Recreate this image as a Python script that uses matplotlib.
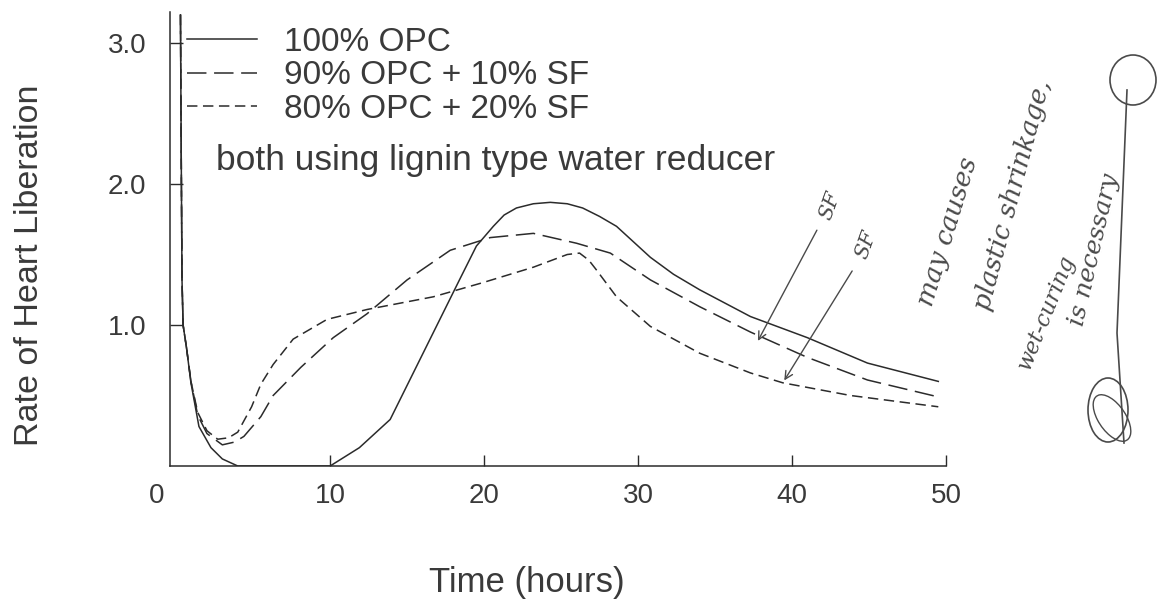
import matplotlib
matplotlib.use("Agg")
import matplotlib.pyplot as plt
from matplotlib.lines import Line2D
from matplotlib.patches import Ellipse
from matplotlib.transforms import ScaledTranslation

plt.rcParams['font.family'] = ['Liberation Sans', 'DejaVu Sans']
plt.rcParams['lines.scale_dashes'] = False

# ---- data ----
time_opc100 = [0.28, 0.33, 0.38, 0.45, 0.67, 0.96, 1.48, 2.26, 3.0, 4.0, 10.0, 11.9, 13.9,
               18.4, 19.5, 20.6, 21.3, 22.1, 23.2, 24.3, 25.4, 26.4, 27.5, 28.6, 29.7, 30.8,
               32.3, 34.0, 37.3, 41.0, 44.9, 49.5]
rate_opc100 = [3.2, 2.2, 1.32, 1.0, 0.84, 0.59, 0.28, 0.13, 0.05, 0.0, 0.0, 0.13, 0.33,
               1.32, 1.56, 1.70, 1.78, 1.83, 1.86, 1.87, 1.86, 1.83, 1.77, 1.70, 1.59, 1.48,
               1.36, 1.25, 1.06, 0.91, 0.73, 0.60]

time_sf10 = [0.28, 0.33, 0.38, 0.45, 0.67, 0.96, 1.4, 2.0, 3.0, 3.8, 4.4, 5.5, 6.3, 8.1, 10.2,
             12.4, 15.0, 17.8, 20.4, 23.2, 26.0, 28.2, 30.8, 34.0, 37.3, 41.0, 44.9, 49.5]
rate_sf10 = [3.2, 2.2, 1.32, 1.0, 0.84, 0.60, 0.36, 0.23, 0.15, 0.17, 0.21, 0.35, 0.50, 0.70, 0.91,
             1.08, 1.32, 1.53, 1.62, 1.65, 1.58, 1.51, 1.32, 1.13, 0.95, 0.77, 0.61, 0.49]

time_sf20 = [0.28, 0.33, 0.38, 0.45, 0.67, 0.96, 1.4, 2.0, 2.7, 3.4, 4.0, 4.9, 5.5, 6.3, 7.6, 9.8,
             12.4, 16.7, 19.9, 23.2, 25.4, 26.2, 26.8, 27.3, 28.6, 30.8, 34.0, 37.3, 39.4, 43.8, 49.5]
rate_sf20 = [3.2, 2.2, 1.32, 1.0, 0.84, 0.60, 0.38, 0.25, 0.19, 0.20, 0.24, 0.42, 0.58, 0.72, 0.90, 1.04,
             1.11, 1.20, 1.30, 1.41, 1.50, 1.51, 1.46, 1.39, 1.20, 0.99, 0.80, 0.66, 0.59, 0.50, 0.42]

labels = ['100% OPC', '90% OPC + 10% SF', '80% OPC + 20% SF']
x_ticks = [0, 10, 20, 30, 40, 50]
y_ticks = [1.0, 2.0, 3.0]
y_ticklabels = ['1.0', '2.0', '3.0']

ink = '#2b2b2b'
txt = '#3a3a3a'
pen = '#4a4a4a'

fig = plt.figure(figsize=(11.69, 6.06), dpi=100)
ax = fig.add_axes([170/1169, 1-466/606, (946-170)/1169, (466-12)/606])

l1, = ax.plot(time_opc100, rate_opc100, color=ink, lw=1.1, label=labels[0])
l2, = ax.plot(time_sf10, rate_sf10, color=ink, lw=1.1, dashes=(14, 5.5), label=labels[1])
l3, = ax.plot(time_sf20, rate_sf20, color=ink, lw=1.1, dashes=(7.5, 4), label=labels[2])

ax.set_xlim(-0.4, 50)
ax.set_ylim(0, 3.22)
for s in ['top', 'right']:
    ax.spines[s].set_visible(False)
for s in ['left', 'bottom']:
    ax.spines[s].set_color(ink)
    ax.spines[s].set_linewidth(1.1)

ax.set_xticks(x_ticks)
ax.set_xticklabels([str(v) for v in x_ticks])
ax.set_yticks(y_ticks)
ax.set_yticklabels(y_ticklabels)
ax.tick_params(axis='x', direction='in', length=8, width=1, color=ink, pad=12,
               labelsize=20, labelcolor=txt)
ax.tick_params(axis='y', direction='in', length=9, width=1, color=ink, pad=17,
               labelsize=20, labelcolor=txt)
ax.xaxis.get_major_ticks()[0].tick1line.set_visible(False)
lab0 = ax.xaxis.get_major_ticks()[0].label1
lab0.set_transform(lab0.get_transform() + ScaledTranslation(-0.2, 0, fig.dpi_scale_trans))

ax.set_xlabel('Time (hours)', fontsize=25, color=txt)
ax.xaxis.set_label_coords((527-170)/776, (466-566)/454)
ax.set_ylabel('Rate of Heart Liberation', fontsize=24.5, color=txt)
ax.yaxis.set_label_coords((45-170)/776, (466-265)/454)

leg = ax.legend(handles=[l1, l2, l3], loc='upper left', bbox_to_anchor=(0.022, 0.967),
                frameon=False, fontsize=24, handlelength=2.1, handletextpad=0.8,
                labelspacing=0.07, borderpad=0, borderaxespad=0)
for t in leg.get_texts():
    t.set_color(txt)

ax.text(2.6, 2.17, 'both using lignin type water reducer', fontsize=25.5, color=txt,
        ha='left', va='center')

# handwritten annotations
hand = dict(color=pen, fontstyle='italic', family='DejaVu Serif')
ax.annotate('', xy=(37.7, 0.87), xytext=(41.7, 1.69),
            arrowprops=dict(arrowstyle='->', color=pen, lw=1.0, mutation_scale=14))
ax.annotate('', xy=(39.4, 0.59), xytext=(44.0, 1.40),
            arrowprops=dict(arrowstyle='->', color=pen, lw=1.0, mutation_scale=14))
ax.text(42.5, 1.85, 'SF', fontsize=15, rotation=70, ha='center', va='center', **hand)
ax.text(44.8, 1.57, 'SF', fontsize=15, rotation=70, ha='center', va='center', **hand)

fig.text(948/1169, 1-232/606, 'may causes', fontsize=19, rotation=73,
         ha='center', va='center', **hand)
fig.text(1013/1169, 1-195/606, 'plastic shrinkage,', fontsize=19, rotation=75,
         ha='center', va='center', **hand)
fig.text(1046/1169, 1-312/606, 'wet-curing', fontsize=16, rotation=68,
         ha='center', va='center', **hand)
fig.text(1094/1169, 1-250/606, 'is necessary', fontsize=18, rotation=77,
         ha='center', va='center', **hand)

# pen doodle on the right margin
fig.add_artist(Line2D([1127/1169, 1117/1169, 1124/1169], [1-90/606, 1-333/606, 1-443/606],
                      transform=fig.transFigure, color=pen, lw=1.2))
fig.add_artist(Ellipse((1133/1169, 1-80/606), 46/1169, 50/606, transform=fig.transFigure,
                       fill=False, edgecolor=pen, lw=1.2))
fig.add_artist(Ellipse((1108/1169, 1-410/606), 40/1169, 64/606, transform=fig.transFigure,
                       fill=False, edgecolor=pen, lw=1.2))
fig.add_artist(Ellipse((1112/1169, 1-418/606), 30/1169, 48/606, angle=15, transform=fig.transFigure,
                       fill=False, edgecolor=pen, lw=1.0))

fig.savefig('out.png', dpi=100)
